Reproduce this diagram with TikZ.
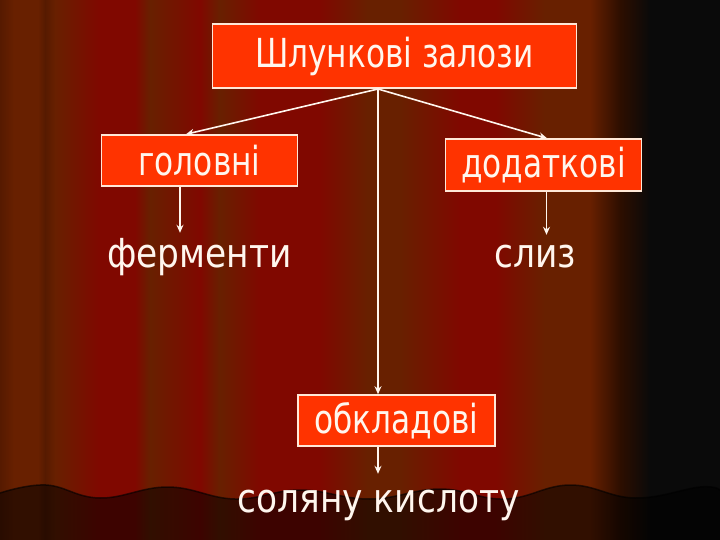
\documentclass[tikz,border=0pt]{standalone}
\usepackage{fontspec}
\newfontfamily\glandfont{DejaVu Sans}[FakeStretch=0.78]
\newfontfamily\labelfont{DejaVu Sans}[FakeStretch=0.86]
\usetikzlibrary{arrows.meta}

\definecolor{curD}{RGB}{86,26,0}
\definecolor{curB}{RGB}{104,32,0}
\definecolor{curR}{RGB}{128,8,0}
\definecolor{curS}{RGB}{45,14,0}
\definecolor{curK}{RGB}{10,10,10}
\definecolor{boxfill}{RGB}{255,51,0}
\definecolor{boxline}{RGB}{255,232,215}
\definecolor{txt}{RGB}{255,246,238}

\tikzset{
  gland/.style={draw=boxline, line width=1.6pt, fill=boxfill, text=txt, inner sep=0pt, font=\glandfont\fontsize{40}{46}\selectfont},
  product/.style={text=txt, inner sep=0pt, anchor=base, text height=34pt, font=\labelfont\fontsize{40}{46}\selectfont},
  link/.style={draw=txt, line width=1.6pt, -{Stealth[length=8pt,width=7pt]}}
}

\begin{document}
\begin{tikzpicture}[x=1pt,y=-1pt]
\useasboundingbox (0,0) rectangle (720,540);

% curtain stripes
\foreach \xa/\ca/\xb/\cb in {0/curD/14/curB, 14/curB/38/curB, 38/curB/45/curD, 45/curD/55/curB,
  55/curB/100/curR, 100/curR/135/curR, 135/curR/150/curB, 150/curB/200/curR, 200/curR/220/curB,
  220/curB/260/curR, 260/curR/320/curR, 320/curR/367/curB, 367/curB/400/curB, 400/curB/460/curR,
  460/curR/495/curR, 495/curR/545/curB, 545/curB/590/curB, 590/curB/620/curS, 620/curS/650/curK, 650/curK/720/curK}
  \shade[left color=\ca, right color=\cb] (\xa,0) rectangle (\xb,540);

% hem of the curtain
\fill[black, opacity=0.52] plot[smooth, tension=.7] coordinates {(0,493) (46,485) (100,498) (168,487) (235,499) (300,490)
  (370,499) (440,489) (505,499) (570,485) (635,498) (700,487) (720,490)} -- (720,540) -- (0,540) -- cycle;
\draw[black, opacity=0.6, line width=1.5pt] plot[smooth, tension=.7] coordinates {(0,493) (46,485) (100,498) (168,487) (235,499) (300,490)
  (370,499) (440,489) (505,499) (570,485) (635,498) (700,487) (720,490)};

% glands
\node[gland, minimum width=364pt, minimum height=64pt] (zalozy) at (394.5,56) {Шлункові залози};
\node[gland, minimum width=196pt, minimum height=51pt] (golovni) at (199.5,160.5) {головні};
\node[gland, minimum width=196pt, minimum height=52pt] (dodatkovi) at (543.5,165) {додаткові};
\node[gland, minimum width=197pt, minimum height=51pt] (obkladovi) at (396.5,420.5) {обкладові};

% products
\node[product] (fermenty) at (199.5,267) {ферменти};
\node[product, text height=32pt] (slyz) at (535,267) {слиз};
\node[product, text height=38pt] (kyslota) at (378.5,512) {соляну кислоту};

\coordinate (fork) at (378,89);

\draw[link] (fork) -- ([xshift=-13.5pt]golovni.north);
\draw[link] (fork) -- ([xshift=3.5pt]dodatkovi.north);
\draw[link, line width=1.3pt] (fork) -- (fork |- obkladovi.north);
\draw[link, line width=1.3pt] ([xshift=-19.5pt]golovni.south) -- ([xshift=-19.5pt]fermenty.north);
\draw[link, line width=1.3pt] ([xshift=3pt]dodatkovi.south) -- ([xshift=11.5pt]slyz.north);
\draw[link, line width=1.3pt] (obkladovi.south -| fork) -- (kyslota.north -| fork);
\end{tikzpicture}
\end{document}
